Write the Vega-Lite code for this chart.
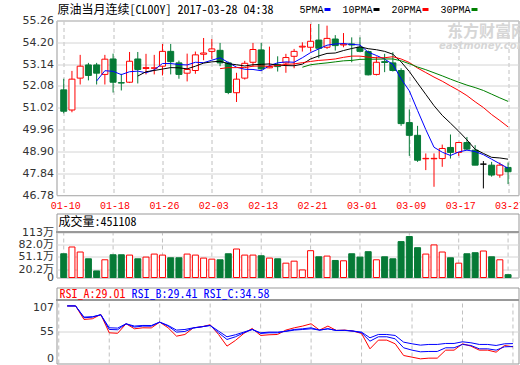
{
  "$schema": "https://vega.github.io/schema/vega-lite/v6.json",
  "background": "#ffffff",
  "padding": {"left": 17.5, "top": 2.5, "right": 0, "bottom": 0},
  "title": {"text": "东方财富网", "subtitle": "eastmoney.com\u00a0\u00a0\u00a0\u00a0", "anchor": "end", "frame": "bounds", "orient": "top", "offset": -47.5, "dx": 2, "font": "Noto Sans CJK SC", "fontSize": 16, "fontWeight": "bold", "color": "#d6d6d6", "subtitleFont": "DejaVu Sans", "subtitleFontSize": 10, "subtitleFontWeight": "bold", "subtitleFontStyle": "italic", "subtitleColor": "#d6d6d6", "subtitlePadding": 1},
  "config": {
    "view": {"stroke": "#999999", "strokeWidth": 1},
    "axis": {"labelFont": "DejaVu Sans, Noto Sans CJK SC", "labelFontSize": 11, "labelColor": "#333333", "ticks": false, "domain": false, "gridColor": "#d4d4d4", "labelPadding": 3, "labelOverlap": false, "tickCount": 30},
    "legend": {"padding": 0, "titlePadding": 0},
    "title": {"fontWeight": "normal"}
  },
  "datasets": {
    "k": [
      {"i":0,"d":"01-10","o":51.89,"h":52.43,"l":50.75,"c":50.85,"v":590000},
      {"i":1,"d":"01-11","o":50.91,"h":52.81,"l":50.80,"c":52.41,"v":758000,"ra":100,"rb":100,"rc":100},
      {"i":2,"d":"01-12","o":52.46,"h":53.59,"l":52.15,"c":53.04,"v":633000,"ra":100,"rb":100,"rc":100},
      {"i":3,"d":"01-13","o":53.10,"h":53.20,"l":52.35,"c":52.59,"v":465000,"ra":76.5,"rb":79.4,"rc":80.6},
      {"i":4,"d":"01-16","o":53.10,"h":53.20,"l":52.15,"c":52.70,"v":163000,"ma5":52.32,"ra":77.7,"rb":80.6,"rc":81.2},
      {"i":5,"d":"01-17","o":52.64,"h":53.59,"l":52.15,"c":53.38,"v":440000,"ma5":52.82,"ra":85.2,"rb":84.7,"rc":84.7},
      {"i":6,"d":"01-18","o":53.39,"h":53.65,"l":51.76,"c":52.26,"v":565000,"ma5":52.79,"ra":53.3,"rb":59.1,"rc":62.0},
      {"i":7,"d":"01-19","o":52.24,"h":52.67,"l":51.86,"c":52.22,"v":565000,"ma5":52.63,"ra":52.5,"rb":58.6,"rc":61.5},
      {"i":8,"d":"01-20","o":52.26,"h":53.73,"l":52.22,"c":53.28,"v":557000,"ma5":52.77,"ra":69.0,"rb":69.0,"rc":69.0},
      {"i":9,"d":"01-23","o":53.39,"h":53.73,"l":52.20,"c":52.88,"v":465000,"ma5":52.80,"ma10":52.56,"ra":60.3,"rb":63.2,"rc":65.0},
      {"i":10,"d":"01-24","o":52.93,"h":53.64,"l":52.64,"c":52.97,"v":507000,"ma5":52.72,"ma10":52.77,"ra":62.0,"rb":65.0,"rc":66.1},
      {"i":11,"d":"01-25","o":52.94,"h":53.59,"l":52.64,"c":52.96,"v":582000,"ma5":52.86,"ma10":52.83,"ra":61.8,"rb":64.8,"rc":66.0},
      {"i":12,"d":"01-26","o":53.04,"h":54.12,"l":52.59,"c":53.76,"v":557000,"ma5":53.17,"ma10":52.90,"ra":71.9,"rb":71.9,"rc":71.9},
      {"i":13,"d":"01-27","o":53.76,"h":54.12,"l":52.64,"c":53.26,"v":490000,"ma5":53.17,"ma10":52.97,"ra":62.0,"rb":65.0,"rc":66.1},
      {"i":14,"d":"01-30","o":53.20,"h":53.31,"l":52.43,"c":52.64,"v":490000,"ma5":53.12,"ma10":52.96,"ra":47.5,"rb":54.5,"rc":58.0},
      {"i":15,"d":"01-31","o":52.70,"h":53.65,"l":52.30,"c":52.88,"v":582000,"ma5":53.10,"ma10":52.91,"ra":50.4,"rb":55.7,"rc":59.1},
      {"i":16,"d":"02-01","o":52.83,"h":53.75,"l":52.67,"c":53.59,"v":557000,"ma5":53.23,"ma10":53.04,"ra":62.0,"rb":61.5,"rc":62.0},
      {"i":17,"d":"02-02","o":53.62,"h":54.41,"l":53.33,"c":53.68,"v":482000,"ma5":53.21,"ma10":53.19,"ra":63.8,"rb":63.8,"rc":63.8},
      {"i":18,"d":"02-03","o":53.76,"h":54.36,"l":53.39,"c":53.88,"v":456000,"ma5":53.33,"ma10":53.25,"ra":67.3,"rb":66.1,"rc":66.1},
      {"i":19,"d":"02-06","o":53.81,"h":54.17,"l":53.04,"c":53.20,"v":440000,"ma5":53.45,"ma10":53.28,"ma20":52.92,"ra":50.4,"rb":53.3,"rc":56.3},
      {"i":20,"d":"02-07","o":53.20,"h":53.26,"l":51.68,"c":51.76,"v":590000,"ma5":53.22,"ma10":53.16,"ma20":52.97,"ra":30.2,"rb":41.7,"rc":46.4},
      {"i":21,"d":"02-08","o":51.75,"h":52.72,"l":51.30,"c":52.41,"v":708000,"ma5":52.99,"ma10":53.11,"ma20":52.97,"ra":40.0,"rb":46.4,"rc":49.9},
      {"i":22,"d":"02-09","o":52.46,"h":53.30,"l":52.39,"c":53.18,"v":557000,"ma5":52.89,"ma10":53.05,"ma20":52.97,"ra":52.2,"rb":53.3,"rc":54.5},
      {"i":23,"d":"02-10","o":53.23,"h":54.17,"l":53.02,"c":53.85,"v":557000,"ma5":52.88,"ma10":53.11,"ma20":53.04,"ra":60.9,"rb":59.1,"rc":59.1},
      {"i":24,"d":"02-13","o":53.83,"h":54.17,"l":52.83,"c":52.91,"v":540000,"ma5":52.82,"ma10":53.13,"ma20":53.05,"ra":48.7,"rb":52.2,"rc":53.3},
      {"i":25,"d":"02-14","o":52.96,"h":53.99,"l":52.94,"c":53.02,"v":482000,"ma5":53.07,"ma10":53.15,"ma20":53.03,"ra":49.9,"rb":53.3,"rc":54.5},
      {"i":26,"d":"02-15","o":53.12,"h":53.52,"l":52.78,"c":53.02,"v":465000,"ma5":53.20,"ma10":53.09,"ma20":53.07,"ra":50.4,"rb":53.3,"rc":54.5},
      {"i":27,"d":"02-16","o":53.20,"h":53.64,"l":52.72,"c":53.46,"v":356000,"ma5":53.25,"ma10":53.07,"ma20":53.13,"ra":58.0,"rb":56.3,"rc":55.7},
      {"i":28,"d":"02-17","o":53.52,"h":53.88,"l":52.94,"c":53.76,"v":406000,"ma5":53.23,"ma10":53.06,"ma20":53.15,"ra":62.0,"rb":59.1,"rc":58.0},
      {"i":29,"d":"02-20","o":53.97,"h":54.20,"l":53.75,"c":54.01,"v":188000,"ma5":53.45,"ma10":53.14,"ma20":53.21,"ma30":52.99,"ra":65.0,"rb":60.3,"rc":59.1},
      {"i":30,"d":"02-21","o":53.96,"h":55.09,"l":53.75,"c":54.25,"v":666000,"ma5":53.70,"ma10":53.39,"ma20":53.27,"ma30":53.11,"ra":69.0,"rb":62.0,"rc":60.3},
      {"i":31,"d":"02-22","o":54.31,"h":55.09,"l":53.43,"c":53.91,"v":515000,"ma5":53.88,"ma10":53.54,"ma20":53.32,"ma30":53.16,"ra":58.0,"rb":58.0,"rc":58.0},
      {"i":32,"d":"02-23","o":53.96,"h":55.01,"l":53.88,"c":54.39,"v":532000,"ma5":54.06,"ma10":53.66,"ma20":53.35,"ma30":53.20,"ra":65.0,"rb":60.3,"rc":60.3},
      {"i":33,"d":"02-24","o":54.36,"h":54.55,"l":53.80,"c":54.04,"v":423000,"ma5":54.12,"ma10":53.68,"ma20":53.39,"ma30":53.25,"ra":57.4,"rb":57.4,"rc":57.4},
      {"i":34,"d":"02-27","o":54.07,"h":54.65,"l":53.96,"c":54.11,"v":415000,"ma5":54.14,"ma10":53.80,"ma20":53.47,"ma30":53.30,"ra":58.0,"rb":57.7,"rc":57.4},
      {"i":35,"d":"02-28","o":54.12,"h":54.44,"l":53.23,"c":54.07,"v":590000,"ma5":54.10,"ma10":53.90,"ma20":53.53,"ma30":53.32,"ra":56.3,"rb":56.3,"rc":56.3},
      {"i":36,"d":"03-01","o":53.96,"h":54.44,"l":53.75,"c":53.76,"v":507000,"ma5":54.07,"ma10":53.98,"ma20":53.53,"ma30":53.37,"ra":52.2,"rb":53.3,"rc":54.5},
      {"i":37,"d":"03-02","o":53.75,"h":53.80,"l":52.59,"c":52.62,"v":641000,"ma5":53.72,"ma10":53.89,"ma20":53.48,"ma30":53.38,"ra":25.5,"rb":38.8,"rc":44.6},
      {"i":38,"d":"03-03","o":52.64,"h":53.51,"l":52.59,"c":53.23,"v":440000,"ma5":53.56,"ma10":53.84,"ma20":53.45,"ma30":53.38,"ra":40.6,"rb":46.4,"rc":50.4},
      {"i":39,"d":"03-06","o":53.26,"h":53.64,"l":52.75,"c":53.22,"v":515000,"ma5":53.38,"ma10":53.76,"ma20":53.45,"ma30":53.39,"ra":40.6,"rb":46.4,"rc":50.4},
      {"i":40,"d":"03-07","o":53.20,"h":53.72,"l":52.78,"c":52.83,"v":465000,"ma5":53.13,"ma10":53.62,"ma20":53.50,"ma30":53.39,"ra":34.2,"rb":42.9,"rc":48.7},
      {"i":41,"d":"03-08","o":52.83,"h":52.94,"l":50.14,"c":50.25,"v":892000,"ma5":52.43,"ma10":53.25,"ma20":53.39,"ma30":53.30,"ra":13.9,"rb":27.3,"rc":37.1},
      {"i":42,"d":"03-09","o":50.30,"h":50.94,"l":48.68,"c":49.68,"v":1018000,"ma5":51.84,"ma10":52.78,"ma20":53.22,"ma30":53.16,"ra":11.0,"rb":23.2,"rc":34.2},
      {"i":43,"d":"03-10","o":49.68,"h":50.14,"l":48.39,"c":48.47,"v":741000,"ma5":50.89,"ma10":52.22,"ma20":52.95,"ma30":53.00,"ra":8.1,"rb":20.3,"rc":31.9},
      {"i":44,"d":"03-13","o":48.54,"h":48.80,"l":47.99,"c":48.56,"v":582000,"ma5":49.96,"ma10":51.67,"ma20":52.73,"ma30":52.87,"ra":9.3,"rb":20.9,"rc":33.1},
      {"i":45,"d":"03-14","o":48.54,"h":48.80,"l":47.18,"c":48.56,"v":809000,"ma5":49.10,"ma10":51.12,"ma20":52.51,"ma30":52.72,"ra":9.3,"rb":20.9,"rc":33.1},
      {"i":46,"d":"03-15","o":48.55,"h":49.23,"l":48.15,"c":49.04,"v":633000,"ma5":48.86,"ma10":50.65,"ma20":52.31,"ma30":52.57,"ra":23.2,"rb":27.3,"rc":34.8},
      {"i":47,"d":"03-16","o":49.09,"h":49.72,"l":48.55,"c":48.85,"v":490000,"ma5":48.70,"ma10":50.27,"ma20":52.08,"ma30":52.41,"ra":23.2,"rb":27.3,"rc":34.8},
      {"i":48,"d":"03-17","o":48.85,"h":49.36,"l":48.68,"c":49.33,"v":356000,"ma5":48.87,"ma10":49.88,"ma20":51.86,"ma30":52.26,"ra":34.2,"rb":33.1,"rc":37.7},
      {"i":49,"d":"03-20","o":49.33,"h":49.60,"l":48.96,"c":49.01,"v":590000,"ma5":48.96,"ma10":49.46,"ma20":51.61,"ma30":52.12,"ra":30.2,"rb":31.3,"rc":36.0},
      {"i":50,"d":"03-21","o":48.96,"h":49.20,"l":48.23,"c":48.23,"v":616000,"ma5":48.89,"ma10":49.00,"ma20":51.31,"ma30":52.00,"ra":23.2,"rb":25.5,"rc":33.1},
      {"i":51,"d":"03-22","o":48.28,"h":48.43,"l":47.10,"c":48.28,"v":658000,"ma5":48.74,"ma10":48.80,"ma20":51.03,"ma30":51.86,"ra":23.2,"rb":25.5,"rc":33.1},
      {"i":52,"d":"03-23","o":48.23,"h":48.39,"l":47.67,"c":47.75,"v":515000,"ma5":48.52,"ma10":48.61,"ma20":50.69,"ma30":51.68,"ra":19.7,"rb":23.2,"rc":31.3},
      {"i":53,"d":"03-24","o":47.75,"h":48.36,"l":47.62,"c":48.23,"v":440000,"ma5":48.30,"ma10":48.58,"ma20":50.40,"ma30":51.50,"ra":31.3,"rb":29.0,"rc":34.2},
      {"i":54,"d":"03-27","o":48.12,"h":48.36,"l":47.31,"c":47.91,"v":70000,"ma5":48.08,"ma10":48.52,"ma20":50.09,"ma30":51.33,"ra":29.01,"rb":29.41,"rc":34.58}
    ]
  },
  "spacing": 18,
  "bounds": "flush",
  "resolve": {"scale": {"color": "independent"}, "legend": {"color": "independent"}},
  "vconcat": [
    {
      "width": 462,
      "height": 174.5,
      "title": {"text": "原油当月连续[CL00Y] 2017-03-28 04:38", "anchor": "start", "frame": "group", "offset": -12, "dx": 1, "font": "Noto Sans Mono CJK SC, Liberation Mono, Noto Sans CJK SC, monospace", "fontSize": 12, "color": "#000000"},
      "data": {"name": "k"},
      "encoding": {
        "x": {"field": "i", "type": "quantitative", "scale": {"domain": [-0.27, 54.66], "nice": false, "zero": false},
              "axis": {"title": null, "values": [0, 6, 12, 18, 24, 30, 36, 42, 48, 54], "tickCount": 30, "labelExpr": "['01-10','01-18','01-26','02-03','02-13','02-21','03-01','03-09','03-17','03-27'][round(datum.value / 6)]", "grid": true, "gridDash": [4, 3], "gridColor": "#c0c0c0", "labelColor": "#ff0000", "labelFont": "Liberation Mono, DejaVu Sans Mono, monospace", "labelFontSize": 10, "labelPadding": 5, "labelFlush": 3, "labelOffset": 1.5, "labelOverlap": false}}
      },
      "layer": [
        {
          "mark": {"type": "rule", "strokeWidth": 1},
          "encoding": {
            "y": {"field": "l", "type": "quantitative", "scale": {"domain": [46.78, 55.26], "nice": false, "zero": false},
                  "axis": {"title": null, "values": [46.78, 47.84, 48.9, 49.96, 51.02, 52.08, 53.14, 54.2, 55.26], "tickCount": 30, "format": ".2f", "grid": true, "labelOverlap": false}},
            "y2": {"field": "h"},
            "color": {"condition": [{"test": "datum.c < datum.o", "value": "#067a36"}, {"test": "datum.c > datum.o", "value": "#ff0000"}], "value": "#000000"}
          }
        },
        {
          "mark": {"type": "bar", "size": 6, "strokeWidth": 1, "orient": "vertical"},
          "encoding": {
            "y": {"field": "o", "type": "quantitative"},
            "y2": {"field": "c"},
            "fill": {"condition": [{"test": "datum.c < datum.o", "value": "#067a36"}, {"test": "datum.c > datum.o", "value": "#ffffff"}], "value": "#000000"},
            "stroke": {"condition": [{"test": "datum.c < datum.o", "value": "#067a36"}, {"test": "datum.c > datum.o", "value": "#ff0000"}], "value": "#000000"}
          }
        },
        {
          "transform": [{"fold": ["ma5", "ma10", "ma20", "ma30"], "as": ["ma", "mv"]}],
          "mark": {"type": "line", "strokeWidth": 1},
          "encoding": {
            "y": {"field": "mv", "type": "quantitative"},
            "color": {"field": "ma", "type": "nominal",
                      "scale": {"domain": ["ma5", "ma10", "ma20", "ma30"], "range": ["#0000ff", "#000000", "#ff0000", "#008000"]},
                      "legend": {"orient": "none", "legendX": 266, "legendY": -16, "direction": "horizontal", "columns": 4, "gridAlign": "none", "title": null, "symbolType": "stroke", "symbolSize": 36, "symbolStrokeWidth": 3, "labelAlign": "right", "labelOffset": -9, "labelFont": "Liberation Mono, DejaVu Sans Mono, monospace", "labelFontSize": 10, "labelColor": "#000000", "columnPadding": 5,
                                 "labelExpr": "datum.value == 'ma5' ? '5PMA' : datum.value == 'ma10' ? '10PMA' : datum.value == 'ma20' ? '20PMA' : '30PMA'"}}
          }
        }
      ]
    },
    {
      "spacing": 10,
      "bounds": "flush",
      "resolve": {"scale": {"color": "independent"}, "legend": {"color": "independent"}},
      "vconcat": [
        {
          "width": 462,
          "height": 64,
          "title": {"text": "成交量:451108", "anchor": "start", "frame": "group", "offset": -15, "dx": 2, "font": "Noto Sans Mono CJK SC, Liberation Mono, Noto Sans CJK SC, monospace", "fontSize": 12, "color": "#000000"},
          "data": {"name": "k"},
          "layer": [
            {
              "transform": [{"filter": "datum.i % 6 == 0"}],
              "mark": {"type": "rule", "strokeDash": [4, 3], "color": "#c0c0c0"},
              "encoding": {
                "x": {"field": "i", "type": "quantitative", "scale": {"domain": [-0.27, 54.66], "nice": false, "zero": false}, "axis": null},
                "y": {"datum": 0, "type": "quantitative", "scale": {"domain": [0, 1590000], "nice": false},
                      "axis": {"title": null, "values": [0, 202000, 511000, 820000, 1130000], "tickCount": 30, "grid": true, "labelOverlap": false,
                               "labelExpr": "datum.value == 0 ? '0' : (datum.value >= 1000000 ? format(datum.value / 10000, 'd') : format(datum.value / 10000, '.1f')) + '万'"}},
                "y2": {"datum": 1130000}
              }
            },
            {
              "mark": {"type": "bar", "size": 6, "strokeWidth": 1, "orient": "vertical"},
              "encoding": {
                "x": {"field": "i", "type": "quantitative", "scale": {"domain": [-0.27, 54.66], "nice": false, "zero": false}, "axis": null},
                "y": {"field": "v", "type": "quantitative"},
                "fill": {"condition": {"test": "datum.c < datum.o", "value": "#067a36"}, "value": "#ffffff"},
                "stroke": {"condition": {"test": "datum.c < datum.o", "value": "#067a36"}, "value": "#ff0000"}
              }
            },
            {
              "mark": {"type": "rule", "color": "#999999"},
              "encoding": {"y": {"datum": 1130000, "type": "quantitative"}}
            }
          ]
        },
        {
          "width": 462,
          "height": 76,
          "data": {"name": "k"},
          "layer": [
            {
              "transform": [{"filter": "datum.i % 6 == 0"}],
              "mark": {"type": "rule", "strokeDash": [4, 3], "color": "#c0c0c0"},
              "encoding": {
                "x": {"field": "i", "type": "quantitative", "scale": {"domain": [-0.27, 54.66], "nice": false, "zero": false}, "axis": null},
                "y": {"datum": 0, "type": "quantitative", "scale": {"domain": [0, 132], "nice": false},
                      "axis": {"title": null, "values": [0, 55, 107], "tickCount": 30, "grid": true, "labelOverlap": false,
                               "gridOpacity": {"condition": {"test": "datum.value == 55", "value": 1}, "value": 0},
                               "labelBaseline": {"condition": [{"test": "datum.value == 107", "value": "top"}, {"test": "datum.value == 0", "value": "bottom"}], "value": "middle"}}},
                "y2": {"datum": 110}
              }
            },
            {
              "transform": [{"fold": ["ra", "rb", "rc"], "as": ["r", "rv"]}],
              "mark": {"type": "line", "strokeWidth": 1},
              "encoding": {
                "x": {"field": "i", "type": "quantitative", "scale": {"domain": [-0.27, 54.66], "nice": false, "zero": false}, "axis": null},
                "y": {"field": "rv", "type": "quantitative"},
                "color": {"field": "r", "type": "nominal",
                          "scale": {"domain": ["ra", "rb", "rc"], "range": ["#ff0000", "#0000ff", "#0000ff"]},
                          "legend": {"orient": "none", "legendX": -9, "legendY": 0, "direction": "horizontal", "columns": 3, "gridAlign": "none", "title": null, "symbolSize": 0, "symbolStrokeWidth": 0, "symbolOpacity": 0, "labelOffset": 0, "columnPadding": -7, "labelFont": "Noto Sans Mono CJK SC, Liberation Mono, monospace", "labelFontSize": 12, "labelLimit": 0,
                                     "labelExpr": "datum.value == 'ra' ? 'RSI_A:29.01' : datum.value == 'rb' ? 'RSI_B:29.41' : 'RSI_C:34.58'",
                                     "encode": {"labels": {"update": {"fill": {"signal": "datum.value == 'ra' ? '#ff0000' : '#0000ff'"}}}}}}
              }
            },
            {
              "mark": {"type": "rule", "color": "#999999"},
              "encoding": {"y": {"datum": 110, "type": "quantitative"}}
            }
          ]
        }
      ]
    }
  ]
}
